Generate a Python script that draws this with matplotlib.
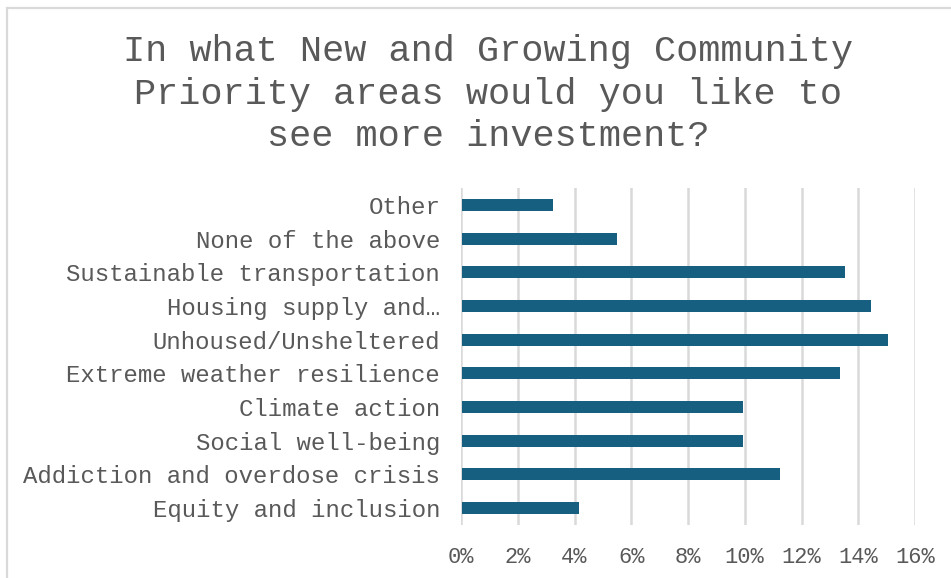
import matplotlib.pyplot as plt
from matplotlib.patches import Rectangle

# survey results, bottom to top as drawn
categories = ["Equity and inclusion", "Addiction and overdose crisis", "Social well-being",
              "Climate action", "Extreme weather resilience", "Unhoused/Unsheltered",
              "Housing supply and\u2026", "Sustainable transportation", "None of the above", "Other"]
shares = [4.1, 11.2, 9.9, 9.9, 13.3, 15.0, 14.4, 13.5, 5.45, 3.2]
xticks = [0, 2, 4, 6, 8, 10, 12, 14, 16]

bar_color = "#175f80"
text_color = "#595959"
grid_color = "#d9d9d9"
font = "Liberation Mono"

W, H = 951, 578
fig = plt.figure(figsize=(W / 100, H / 100), dpi=100)
fig.patch.set_facecolor("white")

# chart frame (right and bottom edges run off the image)
fig.patches.append(Rectangle((7 / W, -0.1), 1.2, 1 - 8 / H + 0.1, transform=fig.transFigure,
                             fill=False, edgecolor=grid_color, lw=1.6))

fig.text(488 / W, 1 - 94 / H,
         "In what New and Growing Community\nPriority areas would you like to\nsee more investment?",
         ha="center", va="center", fontsize=26.6, family=font, color=text_color, linespacing=1.28)

ax = fig.add_axes([461 / W, 53 / H, 454 / W, 337 / H])
y = list(range(len(categories)))
ax.barh(y, shares, height=0.356, color=bar_color, left=0.05, zorder=3)

ax.set_xlim(0, 16)
ax.set_ylim(-0.5, len(categories) - 0.5)
ax.set_xticks(xticks)
ax.set_xticklabels([f"{t}%" for t in xticks], family=font, fontsize=15.8, color=text_color)
ax.set_yticks(y)
ax.set_yticklabels(categories, family=font, fontsize=17.3, color=text_color)
ax.tick_params(axis="both", length=0)
ax.tick_params(axis="y", pad=15)
ax.tick_params(axis="x", pad=16)
for s in ax.spines.values():
    s.set_visible(False)
ax.grid(axis="x", color=grid_color, lw=1.8, zorder=0)
ax.grid(axis="y", visible=False)

fig.savefig("out.png", dpi=100, facecolor="white")
